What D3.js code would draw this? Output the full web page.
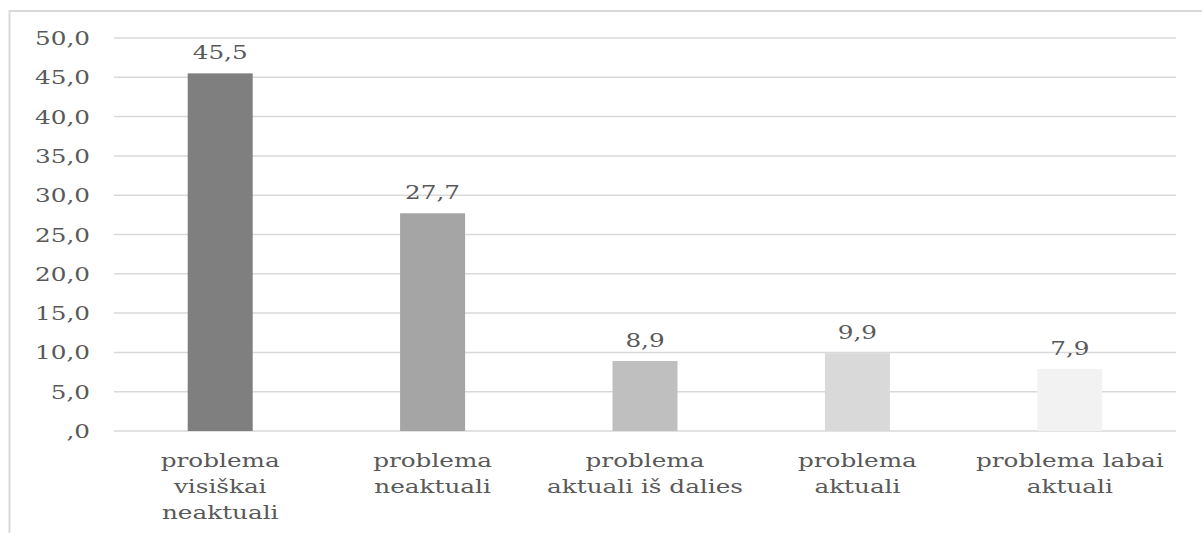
<!DOCTYPE html>
<html>
<head>
<meta charset="utf-8">
<script src="https://cdn.jsdelivr.net/npm/d3@7"></script>
<style>
  html, body { margin: 0; padding: 0; background: #fff; }
  svg { display: block; }
  text { font-family: "DejaVu Serif", "Liberation Serif", serif; fill: #595959; }
</style>
</head>
<body>
<svg id="chart" width="1202" height="533"></svg>
<script>
const categories = [
  ["problema", "visiškai", "neaktuali"],
  ["problema", "neaktuali"],
  ["problema", "aktuali iš dalies"],
  ["problema", "aktuali"],
  ["problema labai", "aktuali"]
];
const values = [45.5, 27.7, 8.9, 9.9, 7.9];
const barColors = ["#7f7f7f", "#a5a5a5", "#bfbfbf", "#d9d9d9", "#f2f2f2"];
const yTicks = [0, 5, 10, 15, 20, 25, 30, 35, 40, 45, 50];

const fmt = v => {
  let s = d3.format(".1f")(v).replace(".", ",");
  if (s.startsWith("0,")) s = s.slice(1);
  return s;
};

const svg = d3.select("#chart");
const W = 1202, H = 533;
const m = { left: 114, right: 1176, top: 38, bottom: 431 };
const SX = 1.3;
const FS = 19;

// frame
svg.append("path")
  .attr("d", `M${W + 5},11 H9.5 V${H + 5}`)
  .attr("fill", "none").attr("stroke", "#d9d9d9").attr("stroke-width", 2);

const x = d3.scaleBand().domain(d3.range(values.length)).range([m.left, m.right]).paddingInner(0.694).paddingOuter(0.347);
const y = d3.scaleLinear().domain([0, 50]).range([m.bottom, m.top]);

// gridlines
svg.append("g").selectAll("line").data(yTicks).join("line")
  .attr("x1", m.left).attr("x2", m.right)
  .attr("y1", d => y(d)).attr("y2", d => y(d))
  .attr("stroke", "#d9d9d9").attr("stroke-width", 1.5);

// y labels
svg.append("g").selectAll("text").data(yTicks).join("text")
  .attr("transform", d => `translate(90,${y(d) + 7}) scale(${SX},1)`)
  .attr("text-anchor", "end")
  .style("font-size", FS + "px")
  .text(d => fmt(d));

// bars
svg.append("g").selectAll("rect").data(values).join("rect")
  .attr("x", (d, i) => x(i))
  .attr("width", x.bandwidth())
  .attr("y", d => y(d))
  .attr("height", d => y(0) - y(d))
  .attr("fill", (d, i) => barColors[i]);

// value labels
svg.append("g").selectAll("text").data(values).join("text")
  .attr("transform", (d, i) => `translate(${x(i) + x.bandwidth() / 2},${y(d) - 14}) scale(${SX},1)`)
  .attr("text-anchor", "middle")
  .style("font-size", FS + "px")
  .text(d => fmt(d));

// category labels
const cg = svg.append("g").selectAll("g").data(categories).join("g");
cg.each(function (lines, i) {
  d3.select(this).selectAll("text").data(lines).join("text")
    .attr("transform", (t, j) => `translate(${x(i) + x.bandwidth() / 2},${467 + j * 25.8}) scale(${SX},1)`)
    .attr("text-anchor", "middle")
    .style("font-size", FS + "px")
    .text(t => t);
});
</script>
</body>
</html>
